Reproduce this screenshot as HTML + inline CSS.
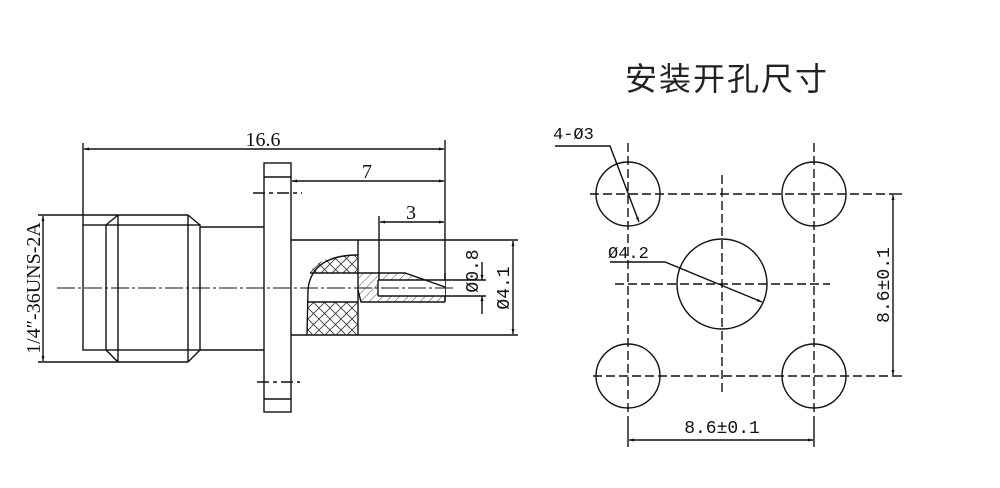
<!DOCTYPE html>
<html><head><meta charset="utf-8"><style>
html,body{margin:0;padding:0;background:#fff;width:1000px;height:488px;overflow:hidden}
svg{display:block}
</style></head><body>
<svg width="1000" height="488" viewBox="0 0 1000 488" xmlns="http://www.w3.org/2000/svg">
<defs>
<pattern id="xh" width="11" height="11" patternUnits="userSpaceOnUse">
<path d="M0,0 L11,11 M11,0 L0,11" stroke="#333" stroke-width="0.8"/>
</pattern>
<pattern id="dh" width="6" height="6" patternUnits="userSpaceOnUse" patternTransform="rotate(45)">
<line x1="0" y1="0" x2="0" y2="6" stroke="#333" stroke-width="0.9"/>
</pattern>
<marker id="ar" viewBox="0 0 10 10" refX="10" refY="5" markerWidth="9" markerHeight="5" orient="auto-start-reverse" markerUnits="userSpaceOnUse">
<path d="M0,2 L10,5 L0,8 z" fill="#111"/>
</marker>
</defs>
<g stroke="#111" stroke-width="1.4" fill="none">
<line x1="83" y1="143" x2="83" y2="225"/>
<line x1="445" y1="140" x2="445" y2="302"/>
<line x1="84" y1="149" x2="444" y2="149" marker-start="url(#ar)" marker-end="url(#ar)"/>
<line x1="292" y1="181" x2="444" y2="181" marker-start="url(#ar)" marker-end="url(#ar)"/>
<line x1="379" y1="216" x2="379" y2="280"/>
<line x1="380" y1="222" x2="444" y2="222" marker-start="url(#ar)" marker-end="url(#ar)"/>
<rect x="83" y="225" width="117" height="125"/>
<line x1="106" y1="225" x2="106" y2="350"/>
<line x1="118" y1="215" x2="118" y2="362"/>
<line x1="188" y1="215" x2="188" y2="362"/>
<line x1="118" y1="215" x2="188" y2="215"/>
<line x1="118" y1="362" x2="188" y2="362"/>
<line x1="106" y1="225" x2="118" y2="215"/>
<line x1="106" y1="350" x2="118" y2="362"/>
<line x1="188" y1="215" x2="200" y2="225"/>
<line x1="188" y1="362" x2="200" y2="350"/>
<line x1="200" y1="227" x2="264" y2="227"/>
<line x1="200" y1="350" x2="264" y2="350"/>
<rect x="264" y="163" width="27" height="249"/>
<line x1="264" y1="177" x2="291" y2="177"/>
<line x1="264" y1="399" x2="291" y2="399"/>
<line x1="253" y1="193" x2="302" y2="193" stroke-dasharray="12,4,4,4"/>
<line x1="257" y1="382" x2="300" y2="382" stroke-dasharray="12,4,4,4"/>
<line x1="291" y1="240" x2="518" y2="240"/>
<line x1="291" y1="335" x2="518" y2="335"/>
<line x1="358" y1="240" x2="358" y2="335"/>
<line x1="445" y1="273" x2="445" y2="302"/>
<path d="M358,255 C330,255 314,262 310,273 L358,273 Z" fill="url(#xh)" stroke="none"/>
<path d="M307,302 L358,302 L358,335 L307,335 Z" fill="url(#xh)" stroke="none"/>
<path d="M358,255 C330,255 310,265 308,290 L307,335" fill="none"/>
<line x1="310" y1="273" x2="358" y2="273"/>
<line x1="307" y1="302" x2="358" y2="302"/>
<path d="M358,273 L405,273 L445,287 L445,302 L361,302 L358,290 Z" fill="url(#dh)" stroke="none"/>
<rect x="378" y="280" width="67" height="16" fill="#fff" stroke="none"/>
<path d="M358,273 L405,273 L445,287 M445,302 L361,302 L358,290"/>
<line x1="378" y1="280" x2="445" y2="280"/>
<line x1="378" y1="296" x2="445" y2="296"/>
<line x1="378" y1="280" x2="378" y2="296"/>
<line x1="57" y1="288" x2="453" y2="288" stroke-width="1" stroke-dasharray="18,3,3,3"/>
<line x1="445" y1="280" x2="486" y2="280"/>
<line x1="445" y1="296" x2="486" y2="296"/>
<line x1="482" y1="262" x2="482" y2="280" marker-end="url(#ar)"/>
<line x1="482" y1="314" x2="482" y2="296" marker-end="url(#ar)"/>
<line x1="513" y1="241" x2="513" y2="334" marker-start="url(#ar)" marker-end="url(#ar)"/>
<line x1="38" y1="215" x2="118" y2="215"/>
<line x1="38" y1="362" x2="118" y2="362"/>
<line x1="43" y1="216" x2="43" y2="361" marker-start="url(#ar)" marker-end="url(#ar)"/>

<g stroke-dasharray="9,4">
<line x1="590" y1="194" x2="893" y2="194"/>
<line x1="593" y1="376" x2="893" y2="376"/>
<line x1="615" y1="284" x2="830" y2="284"/>
<line x1="628" y1="143" x2="628" y2="420"/>
<line x1="814" y1="143" x2="814" y2="420"/>
<line x1="722" y1="175" x2="722" y2="393"/>
</g>
<line x1="893" y1="194" x2="902" y2="194"/>
<line x1="893" y1="376" x2="902" y2="376"/>
<line x1="628" y1="420" x2="628" y2="447"/>
<line x1="814" y1="420" x2="814" y2="447"/>
<circle cx="628" cy="194" r="32"/>
<circle cx="814" cy="194" r="32"/>
<circle cx="628" cy="376" r="32"/>
<circle cx="814" cy="376" r="32"/>
<circle cx="722" cy="284" r="45"/>
<line x1="893" y1="195" x2="893" y2="375" marker-start="url(#ar)" marker-end="url(#ar)"/>
<line x1="629" y1="440" x2="813" y2="440" marker-start="url(#ar)" marker-end="url(#ar)"/>
<polyline points="555,146 610,146 639,222" marker-end="url(#ar)"/>
<polyline points="610,262 665,262 762,302" marker-end="url(#ar)"/>
</g>
<g font-family="'Liberation Mono', monospace" fill="#111" font-size="17">
<text x="263" y="146" text-anchor="middle" font-family="'Liberation Serif',serif" font-size="20">16.6</text>
<text x="367" y="178" text-anchor="middle" font-family="'Liberation Serif',serif" font-size="20">7</text>
<text x="411" y="219" text-anchor="middle" font-family="'Liberation Serif',serif" font-size="20">3</text>
<text transform="translate(478,271) rotate(-90)" text-anchor="middle" font-size="18">Ø0.8</text>
<text transform="translate(509,288) rotate(-90)" text-anchor="middle" font-size="18">Ø4.1</text>
<text transform="translate(40,288) rotate(-90)" text-anchor="middle" font-family="'Liberation Serif',serif" font-size="20">1/4″-36UNS-2A</text>
<text x="553" y="139">4-Ø3</text>
<text x="608" y="258">Ø4.2</text>
<text x="722" y="433" text-anchor="middle" font-size="18">8.6±0.1</text>
<text transform="translate(889,285) rotate(-90)" text-anchor="middle" font-size="18">8.6±0.1</text>
</g>
<text x="727" y="90" text-anchor="middle" font-family="'Liberation Sans','Noto Sans CJK SC',sans-serif" font-size="32" letter-spacing="2" fill="#222">安装开孔尺寸</text>
</svg>
</body></html>
